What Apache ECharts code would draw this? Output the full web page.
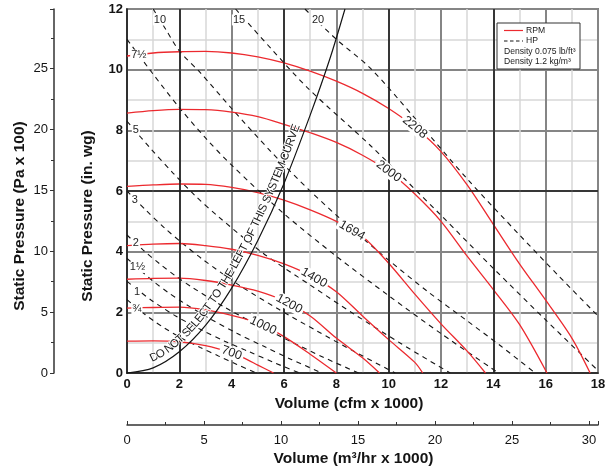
<!DOCTYPE html>
<html>
<head>
<meta charset="utf-8">
<script src="https://cdn.jsdelivr.net/npm/echarts@6.0.0/dist/echarts.min.js"></script>
<style>
html,body{margin:0;padding:0;background:#fff;}
#chart{width:611px;height:472px;}
</style>
</head>
<body>
<div id="chart"></div>
<script>
// ---------- data: Q = Volume (cfm x 1000), P = Static Pressure (in. wg) ----------
const rpmNames = ['700', '1000', '1200', '1400', '1694', '2000', '2208'];
const rpm700  = [[0,1.05],[1,1.06],[2,1.03],[3,0.9],[4,0.66],[4.5,0.48],[5,0.26],[5.6,0]];
const rpm1000 = [[0,2.14],[1,2.16],[2,2.17],[3,2.08],[4,1.9],[5,1.65],[6,1.2],[7,0.62],[8,0]];
const rpm1200 = [[0,3.09],[1,3.12],[2,3.13],[3,3.05],[4,2.9],[5,2.7],[6,2.38],[7,1.88],[8,1.15],[9,0.5],[9.65,0]];
const rpm1400 = [[0,4.2],[1,4.25],[2,4.27],[3,4.2],[4,4.08],[5,3.88],[6,3.6],[7,3.22],[8,2.68],[9,1.88],[10,1.1],[11,0.35],[11.3,0]];
const rpm1694 = [[0,6.15],[1,6.2],[2,6.23],[3,6.22],[4,6.12],[5,5.95],[6,5.7],[7,5.38],[8,5.0],[9,4.5],[10,3.62],[11,2.6],[12,1.62],[13,0.72],[13.7,0]];
const rpm2000 = [[0,8.57],[1,8.65],[2,8.69],[3,8.68],[4,8.6],[5,8.45],[6,8.2],[7,7.92],[8,7.6],[9,7.18],[10,6.65],[11,5.9],[12,5.0],[13,3.85],[14,2.75],[15,1.6],[16.05,0]];
const rpm2208 = [[0,10.45],[1,10.55],[2,10.59],[3,10.6],[4,10.55],[5,10.42],[6,10.22],[7,9.95],[8,9.62],[9,9.22],[10,8.72],[11,8.1],[12,7.3],[13,6.2],[14,4.9],[15,3.6],[16,2.4],[17,1.15],[17.7,0]];

const hpNames = ['\u00BE', '1', '1\u00BD', '2', '3', '5', '7\u00BD', '10', '15', '20'];
const hp0_75 = [[0,2.42],[0.35,2.16],[0.7,1.92],[1.05,1.7],[1.4,1.5],[2.1,1.14],[2.8,0.84],[3.5,0.56],[4.2,0.28],[4.95,0]];
const hp1    = [[0,3.02],[0.47,2.7],[0.93,2.4],[1.4,2.13],[1.86,1.88],[2.8,1.44],[3.73,1.05],[4.67,0.7],[5.6,0.35],[6.6,0]];
const hp1_5  = [[0,3.78],[0.53,3.37],[1.05,2.99],[1.58,2.65],[2.1,2.35],[3.15,1.8],[4.2,1.31],[5.25,0.87],[6.3,0.44],[7.45,0]];
const hp2    = [[0,4.55],[0.62,4.05],[1.25,3.6],[1.87,3.19],[2.5,2.82],[3.75,2.16],[5.0,1.58],[6.25,1.04],[7.5,0.52],[8.85,0]];
const hp3    = [[0,6.0],[0.72,5.37],[1.45,4.77],[2.2,4.22],[2.9,3.74],[4.35,2.86],[5.8,2.1],[7.25,1.39],[8.7,0.7],[10.25,0]];
const hp5    = [[0,8.3],[0.9,7.4],[1.75,6.6],[2.6,5.85],[3.5,5.15],[5.2,3.95],[7,2.9],[8.7,1.93],[10.45,0.98],[12.35,0]];
const hp7_5  = [[0,11.0],[1,9.85],[2,8.75],[3,7.75],[4,6.85],[6,5.25],[8,3.85],[10,2.55],[12,1.3],[14.2,0]];
const hp10   = [[1.0,12],[1.5,11.3],[2.0,10.62],[2.8,9.9],[4.0,8.72],[5.5,7.3],[7,6.0],[8.5,4.82],[10,3.72],[11.5,2.68],[13,1.72],[14.3,0.88],[15.6,0]];
const hp15   = [[4.15,12],[5.5,10.7],[6.9,9.4],[9.3,7.5],[12,5.2],[14,3.45],[16,1.75],[18,0.08]];
const hp20   = [[6.8,12],[8,11.0],[9.3,10.05],[11,8.4],[13,6.4],[15,4.55],[16.5,3.2],[18,1.88]];

const systemCurve = [[0,0],[1,0.17],[2,0.7],[3,1.57],[4,2.8],[5,4.37],[6,6.25],[7,8.5],[7.75,10.35],[8.33,12]];
const systemText = 'DO NOT SELECT TO THE LEFT OF THIS SYSTEM CURVE';

// axis ranges
const cfmMax = 18, inwgMax = 12;
const paMax = 29.89;      // 12 in. wg in Pa x 100
const m3hMax = 30.58;     // 18 000 cfm in m3/hr x 1000
const blackGridX = [2, 6, 10, 14];
const blackGridY = [6];

const legendLines = ['RPM', 'HP', 'Density 0.075 lb/ft\u00B3', 'Density 1.2 kg/m\u00B3'];

// ---------- chart ----------
const FONT = '"Liberation Sans", Arial, Helvetica, sans-serif';
const RED = '#ec2a2f';
const INK = '#141414';
const chart = echarts.init(document.getElementById('chart'), null, {renderer: 'canvas'});

const fanCurves = [rpm700, rpm1000, rpm1200, rpm1400, rpm1694, rpm2000, rpm2208];
const hpCurves = [hp0_75, hp1, hp1_5, hp2, hp3, hp5, hp7_5, hp10, hp15, hp20];

const series = [];
series.push({
  type: 'line', name: 'grid', data: [], silent: true, z: 1,
  markLine: {
    silent: true, symbol: ['none', 'none'], animation: false,
    label: {show: false}, emphasis: {disabled: true},
    lineStyle: {color: '#1c1c1c', width: 1.5, type: 'solid'},
    data: blackGridX.map(v => ({xAxis: v})).concat(blackGridY.map(v => ({yAxis: v})))
  }
});
hpCurves.forEach((c, i) => series.push({
  type: 'line', name: 'HP ' + hpNames[i], data: c, smooth: 0.3,
  symbol: 'none', silent: true, z: 3,
  lineStyle: {color: INK, width: 1.1, type: [5, 4.5]}
}));
fanCurves.forEach((c, i) => series.push({
  type: 'line', name: rpmNames[i] + ' RPM', data: c, smooth: 0.3,
  symbol: 'none', silent: true, z: 4,
  lineStyle: {color: RED, width: 1.3}
}));
series.push({
  type: 'line', name: 'System curve', data: systemCurve, smooth: 0.3,
  symbol: 'none', silent: true, z: 5,
  lineStyle: {color: INK, width: 1.2}
});

const nameStyle = {fontSize: 15.5, fontWeight: 'bold', color: INK, fontFamily: FONT};

chart.setOption({
  animation: false,
  grid: {left: 127, right: 13, top: 9, bottom: 99, show: true, borderColor: '#1c1c1c', borderWidth: 1.5, backgroundColor: 'transparent'},
  xAxis: [
    {
      type: 'value', gridIndex: 0, min: 0, max: cfmMax, interval: 2, position: 'bottom',
      axisLine: {show: true, onZero: false, lineStyle: {color: INK, width: 1.5}},
      axisTick: {show: false},
      axisLabel: {margin: 5, fontSize: 13, fontWeight: 'bold', color: INK, fontFamily: FONT},
      splitLine: {show: true, lineStyle: {color: '#858585', width: 2}},
      minorTick: {show: false, splitNumber: 2},
      minorSplitLine: {show: true, lineStyle: {color: '#d8d8d8', width: 1.5}},
      name: 'Volume (cfm x 1000)', nameLocation: 'middle', nameGap: 23, nameMoveOverlap: false,
      nameTextStyle: Object.assign({}, nameStyle, {padding: [0, 27, 0, 0], verticalAlign: 'top'})
    },
    {
      type: 'value', gridIndex: 0, min: 0, max: m3hMax, interval: 5, position: 'bottom', offset: 52,
      axisLine: {show: true, onZero: false, lineStyle: {color: '#333', width: 1.5}},
      axisTick: {show: true, inside: true, length: 4, lineStyle: {color: '#333', width: 1}},
      minorTick: {show: true, splitNumber: 2, length: 3, lineStyle: {color: '#333', width: 1}},
      axisLabel: {margin: 9, fontSize: 13, color: INK, fontFamily: FONT, showMaxLabel: false},
      splitLine: {show: false},
      name: 'Volume (m\u00B3/hr x 1000)', nameLocation: 'middle', nameGap: 26, nameMoveOverlap: false,
      nameTextStyle: Object.assign({}, nameStyle, {padding: [0, 18, 0, 0], verticalAlign: 'top'})
    }
  ],
  yAxis: [
    {
      type: 'value', gridIndex: 0, min: 0, max: inwgMax, interval: 2, position: 'left',
      axisLine: {show: true, onZero: false, lineStyle: {color: INK, width: 1.5}},
      axisTick: {show: false},
      axisLabel: {margin: 4, fontSize: 13, fontWeight: 'bold', color: INK, fontFamily: FONT},
      splitLine: {show: true, lineStyle: {color: '#858585', width: 2}},
      minorTick: {show: false, splitNumber: 2},
      minorSplitLine: {show: true, lineStyle: {color: '#d8d8d8', width: 1.5}},
      name: 'Static Pressure (in. wg)', nameLocation: 'middle', nameGap: 31, nameMoveOverlap: false,
      nameTextStyle: Object.assign({}, nameStyle, {padding: [0, 50, 0, 0]})
    },
    {
      type: 'value', gridIndex: 0, min: 0, max: paMax, interval: 5, position: 'left', offset: 73,
      axisLine: {show: true, onZero: false, lineStyle: {color: '#333', width: 1.5}},
      axisTick: {show: true, length: 4, lineStyle: {color: '#333', width: 1}},
      minorTick: {show: true, splitNumber: 2, length: 3, lineStyle: {color: '#333', width: 1}},
      axisLabel: {margin: 6, fontSize: 13, color: INK, fontFamily: FONT, showMaxLabel: false},
      splitLine: {show: false},
      name: 'Static Pressure (Pa x 100)', nameLocation: 'middle', nameGap: 26, nameMoveOverlap: false,
      nameTextStyle: Object.assign({}, nameStyle, {padding: [0, 50, 0, 0]})
    }
  ],
  series: series
});

// ---------- annotations ----------
function interp(arr, q) {
  for (let i = 0; i < arr.length - 1; i++) {
    const a = arr[i], b = arr[i + 1];
    if (q >= a[0] && q <= b[0]) return a[1] + (b[1] - a[1]) * (q - a[0]) / (b[0] - a[0]);
  }
  return arr[arr.length - 1][1];
}
const toPx = p => chart.convertToPixel({gridIndex: 0}, p);
const graphics = [];

// RPM labels along the fan curves (anchor Q values)
const rpmLabelQ = [4.0, 5.2, 6.2, 7.15, 8.6, 10.0, 11.0];
fanCurves.forEach((c, i) => {
  const q = rpmLabelQ[i];
  const p = toPx([q, interp(c, q)]);
  const a = toPx([q - 0.35, interp(c, q - 0.35)]);
  const b = toPx([q + 0.35, interp(c, q + 0.35)]);
  const ang = Math.atan2(-(b[1] - a[1]), b[0] - a[0]);
  graphics.push({
    type: 'text', x: p[0], y: p[1], rotation: ang, z: 50, silent: true,
    style: {text: rpmNames[i], font: '12.5px ' + FONT, fill: '#1e1e1e', align: 'center', verticalAlign: 'middle',
            backgroundColor: '#fff', padding: [0, 2, 0, 2]}
  });
});

// HP labels
const hpLabelAt = [[0.38,2.12],[0.38,2.68],[0.4,3.48],[0.34,4.3],[0.3,5.72],[0.34,8.02],[0.45,10.48],[1.26,11.64],[4.28,11.64],[7.3,11.64]];
hpNames.forEach((n, i) => {
  const p = toPx(hpLabelAt[i]);
  graphics.push({
    type: 'text', x: p[0], y: p[1], z: 50, silent: true,
    style: {text: n, font: '11px ' + FONT, fill: '#1e1e1e', align: 'center', verticalAlign: 'middle',
            backgroundColor: '#fff', padding: [0, 1, 0, 1]}
  });
});

// System curve text along the curve
(function () {
  const pts = systemCurve.map(toPx);
  const dense = [];
  for (let i = 0; i < pts.length - 1; i++) {
    const p0 = pts[Math.max(i - 1, 0)], p1 = pts[i], p2 = pts[i + 1], p3 = pts[Math.min(i + 2, pts.length - 1)];
    for (let k = 0; k < 30; k++) {
      const t = k / 30, t2 = t * t, t3 = t2 * t;
      const f = (a, b, c, d) => 0.5 * (2 * b + (-a + c) * t + (2 * a - 5 * b + 4 * c - d) * t2 + (-a + 3 * b - 3 * c + d) * t3);
      dense.push([f(p0[0], p1[0], p2[0], p3[0]), f(p0[1], p1[1], p2[1], p3[1])]);
    }
  }
  dense.push(pts[pts.length - 1]);
  const arc = [0];
  for (let i = 1; i < dense.length; i++) arc.push(arc[i - 1] + Math.hypot(dense[i][0] - dense[i - 1][0], dense[i][1] - dense[i - 1][1]));
  const at = s => {
    let i = 1;
    while (i < arc.length - 1 && arc[i] < s) i++;
    const r = (s - arc[i - 1]) / (arc[i] - arc[i - 1] || 1);
    return [dense[i - 1][0] + r * (dense[i][0] - dense[i - 1][0]), dense[i - 1][1] + r * (dense[i][1] - dense[i - 1][1])];
  };
  const arcAtX = x => { let i = 0; while (i < dense.length - 1 && dense[i][0] < x) i++; return arc[i]; };
  const s0 = arcAtX(toPx([1.05, 0])[0]);
  const s1 = arcAtX(toPx([6.8, 0])[0]);
  const font = '11.5px ' + FONT;
  const ctx = document.createElement('canvas').getContext('2d');
  ctx.font = '11.5px "Liberation Sans", Arial, sans-serif';
  const widths = systemText.split('').map(ch => ctx.measureText(ch).width);
  const total = widths.reduce((a, b) => a + b, 0);
  const k = (s1 - s0) / total;
  let cum = 0;
  systemText.split('').forEach((ch, i) => {
    const s = s0 + (cum + widths[i] / 2) * k;
    cum += widths[i];
    if (ch === ' ') return;
    const p = at(s), pa = at(s - 3), pb = at(s + 3);
    const ang = Math.atan2(-(pb[1] - pa[1]), pb[0] - pa[0]);
    const off = 3;
    const x = p[0] - Math.sin(ang) * off, y = p[1] - Math.cos(ang) * off;
    graphics.push({
      type: 'text', x: x, y: y, rotation: ang, z: 50, silent: true,
      style: {text: ch, font: font, fill: '#1a1a1a', align: 'center', verticalAlign: 'bottom',
              stroke: '#fff', lineWidth: 2, strokeFirst: true}
    });
  });
})();

// Legend box
const lgX = 497, lgY = 23;
graphics.push({type: 'rect', z: 60, silent: true, shape: {x: lgX, y: lgY, width: 83, height: 46},
  style: {fill: '#fff', stroke: '#333', lineWidth: 1}});
graphics.push({type: 'line', z: 61, silent: true, shape: {x1: lgX + 7, y1: lgY + 7.5, x2: lgX + 26, y2: lgY + 7.5},
  style: {stroke: RED, lineWidth: 1.2}});
graphics.push({type: 'line', z: 61, silent: true, shape: {x1: lgX + 7, y1: lgY + 18, x2: lgX + 26, y2: lgY + 18},
  style: {stroke: INK, lineWidth: 1, lineDash: [3.5, 2.5]}});
const lgTextPos = [[lgX + 29, lgY + 7.5], [lgX + 29, lgY + 18], [lgX + 7, lgY + 28.5], [lgX + 7, lgY + 39]];
legendLines.forEach((t, i) => graphics.push({
  type: 'text', z: 61, silent: true, x: lgTextPos[i][0], y: lgTextPos[i][1],
  style: {text: t, font: '8.6px ' + FONT, fill: '#222', align: 'left', verticalAlign: 'middle'}
}));

chart.setOption({graphic: graphics});
</script>
</body>
</html>
